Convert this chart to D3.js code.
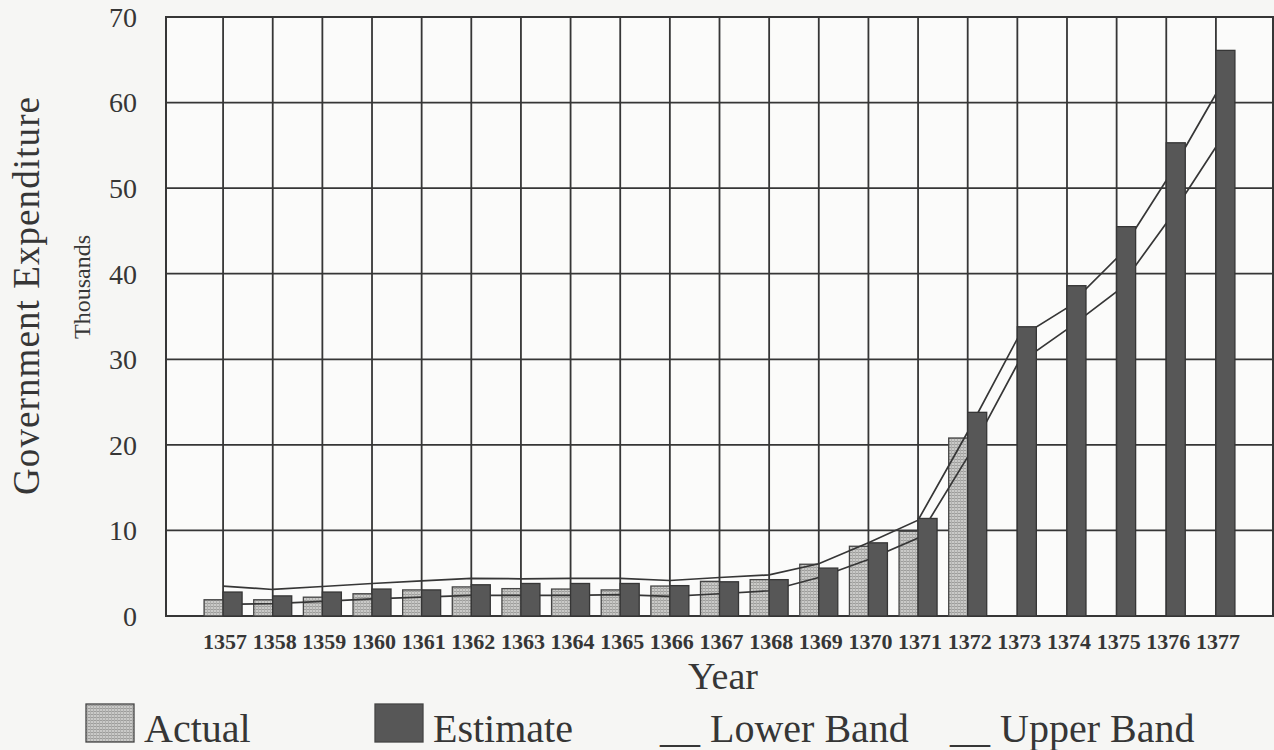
<!DOCTYPE html>
<html>
<head>
<meta charset="utf-8">
<script src="https://cdn.jsdelivr.net/npm/d3@7"></script>
<style>
  body { margin: 0; background: #f6f6f4; }
  svg { display: block; font-family: "Liberation Serif", "Times New Roman", serif; }
</style>
</head>
<body>
<div id="chart"></div>
<script>
// Chart data
const years = ["1357", "1358", "1359", "1360", "1361", "1362", "1363", "1364", "1365", "1366", "1367",
               "1368", "1369", "1370", "1371", "1372", "1373", "1374", "1375", "1376", "1377"];
const actual = [1.9, 1.9, 2.2, 2.6, 3.05, 3.4, 3.2, 3.15, 3.05, 3.5, 4.05,
                4.25, 6.05, 8.15, 9.9, 20.8, null, null, null, null, null];
const estimate = [2.8, 2.35, 2.8, 3.15, 3.05, 3.65, 3.8, 3.8, 3.8, 3.55, 4.0,
                  4.25, 5.6, 8.55, 11.4, 23.8, 33.8, 38.6, 45.5, 55.3, 66.1];
const lowerBand = [1.35, 1.45, 1.7, 2.0, 2.2, 2.4, 2.4, 2.4, 2.5, 2.3, 2.6,
                   2.95, 4.5, 6.6, 9.1, 18.6, 29.4, 33.5, 37.9, 45.9, 54.8];
const upperBand = [3.5, 3.1, 3.45, 3.8, 4.1, 4.4, 4.35, 4.4, 4.4, 4.15, 4.5,
                   4.8, 6.1, 8.55, 11.2, 21.5, 32.4, 36.0, 41.8, 50.9, 61.0];
const yTicks = [0, 10, 20, 30, 40, 50, 60, 70];
const legendItems = ["Actual", "Estimate", "__ Lower Band", "__ Upper Band"];

const width = 1274, height = 750;
const plotLeft = 166, plotRight = 1273, plotTop = 17, plotBottom = 616;
const ink = "#363636";

const svg = d3.select("#chart").append("svg")
    .attr("width", width)
    .attr("height", height);

// stipple pattern for the "Actual" bars
const defs = svg.append("defs");
const pat = defs.append("pattern")
    .attr("id", "stipple")
    .attr("width", 3).attr("height", 3)
    .attr("patternUnits", "userSpaceOnUse");
pat.append("rect").attr("width", 3).attr("height", 3).attr("fill", "#cacac8");
pat.append("rect").attr("width", 3).attr("height", 1).attr("fill", "#9d9d9b");
pat.append("rect").attr("width", 1).attr("height", 3).attr("fill", "#b0b0ae");

const x = d3.scalePoint()
    .domain(years)
    .range([plotLeft, plotRight])
    .padding(1.15);

const sub = d3.scaleBand()
    .domain(["Actual", "Estimate"])
    .range([-19, 19]);

const y = d3.scaleLinear()
    .domain([0, 70])
    .range([plotBottom, plotTop]);

// plot background
svg.append("rect")
    .attr("x", plotLeft).attr("y", plotTop)
    .attr("width", plotRight - plotLeft).attr("height", plotBottom - plotTop)
    .attr("fill", "#fbfbfa");

// horizontal grid
svg.append("g")
    .selectAll("line")
    .data(yTicks)
    .enter().append("line")
    .attr("x1", plotLeft).attr("x2", plotRight)
    .attr("y1", d => y(d)).attr("y2", d => y(d))
    .attr("stroke", ink).attr("stroke-width", 1.8);

// vertical grid at each year
svg.append("g")
    .selectAll("line")
    .data(years)
    .enter().append("line")
    .attr("x1", d => x(d)).attr("x2", d => x(d))
    .attr("y1", plotTop).attr("y2", plotBottom)
    .attr("stroke", ink).attr("stroke-width", 1.8);

// frame
svg.append("rect")
    .attr("x", plotLeft).attr("y", plotTop)
    .attr("width", plotRight - plotLeft).attr("height", plotBottom - plotTop)
    .attr("fill", "none")
    .attr("stroke", ink).attr("stroke-width", 2);

// actual bars
svg.append("g")
    .selectAll("rect")
    .data(years.map((yr, i) => ({ yr, v: actual[i] })).filter(d => d.v != null))
    .enter().append("rect")
    .attr("x", d => x(d.yr) + sub("Actual"))
    .attr("y", d => y(d.v))
    .attr("width", sub.bandwidth())
    .attr("height", d => y(0) - y(d.v))
    .attr("fill", "url(#stipple)")
    .attr("stroke", "#454545").attr("stroke-width", 1.3);

// band lines
const line = d3.line()
    .x((d, i) => x(years[i]))
    .y(d => y(d));

[lowerBand, upperBand].forEach(band => {
    svg.append("path")
        .datum(band)
        .attr("d", line)
        .attr("fill", "none")
        .attr("stroke", ink)
        .attr("stroke-width", 1.7);
});

// estimate bars
svg.append("g")
    .selectAll("rect")
    .data(years.map((yr, i) => ({ yr, v: estimate[i] })))
    .enter().append("rect")
    .attr("x", d => x(d.yr) + sub("Estimate"))
    .attr("y", d => y(d.v))
    .attr("width", sub.bandwidth())
    .attr("height", d => y(0) - y(d.v))
    .attr("fill", "#575757")
    .attr("stroke", "#363636").attr("stroke-width", 1.3);

// y tick labels
svg.append("g")
    .selectAll("text")
    .data(yTicks)
    .enter().append("text")
    .attr("x", 137)
    .attr("y", d => y(d))
    .attr("dy", "0.35em")
    .attr("text-anchor", "end")
    .attr("font-size", 28)
    .attr("fill", ink)
    .text(d => d);

// x tick labels
svg.append("g")
    .selectAll("text")
    .data(years)
    .enter().append("text")
    .attr("x", d => x(d) + 2)
    .attr("y", 649)
    .attr("text-anchor", "middle")
    .attr("font-size", 22)
    .attr("font-weight", "bold")
    .attr("fill", ink)
    .text(d => d);

// axis titles
svg.append("text")
    .attr("transform", "translate(39,296) rotate(-90)")
    .attr("text-anchor", "middle")
    .attr("font-size", 37)
    .attr("textLength", 398)
    .attr("lengthAdjust", "spacing")
    .attr("fill", ink)
    .text("Government Expenditure");

svg.append("text")
    .attr("transform", "translate(90,287) rotate(-90)")
    .attr("text-anchor", "middle")
    .attr("font-size", 24)
    .attr("fill", ink)
    .text("Thousands");

svg.append("text")
    .attr("x", 723)
    .attr("y", 689)
    .attr("text-anchor", "middle")
    .attr("font-size", 38)
    .attr("fill", ink)
    .text("Year");

// legend
const legendX = [86, 375, 660, 950];
const legend = svg.append("g");
legendItems.forEach((name, i) => {
    let tx = legendX[i];
    if (i < 2) {
        legend.append("rect")
            .attr("x", legendX[i]).attr("y", 704)
            .attr("width", 48).attr("height", 38)
            .attr("fill", i === 0 ? "url(#stipple)" : "#575757")
            .attr("stroke", "#454545").attr("stroke-width", 1.3);
        tx = legendX[i] + 58;
    }
    legend.append("text")
        .attr("x", tx)
        .attr("y", 742)
        .attr("font-size", 40)
        .attr("fill", ink)
        .text(name);
});
</script>
</body>
</html>
